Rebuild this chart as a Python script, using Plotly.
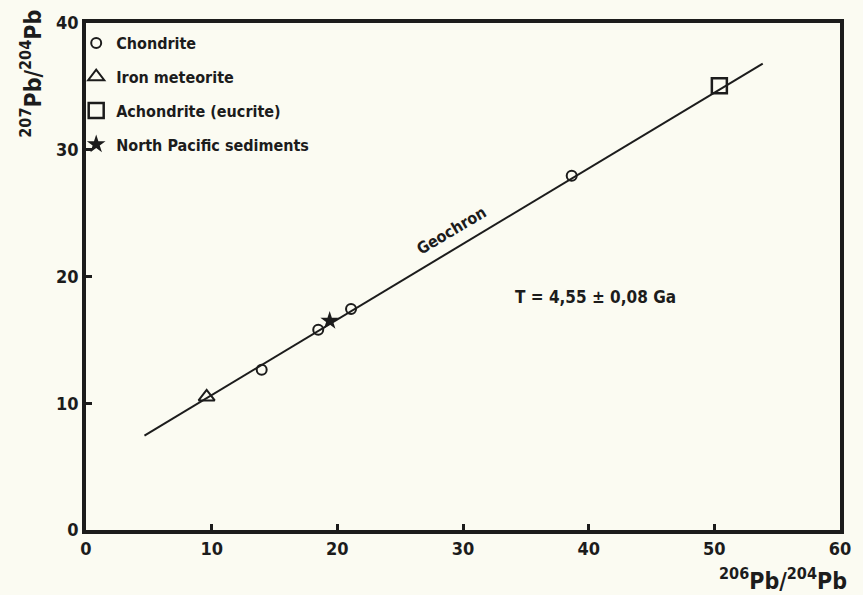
import plotly.graph_objects as go

# ---- data ----
chondrite_x = [13.98, 18.48, 21.09, 38.65]
chondrite_y = [12.65, 15.79, 17.43, 27.95]
iron_x = [9.6]
iron_y = [10.5]
achondrite_x = [50.4]
achondrite_y = [35.05]
pacific_x = [19.39]
pacific_y = [16.5]
geochron_x = [4.65, 53.85]
geochron_y = [7.45, 36.8]

x_ticks = [0, 10, 20, 30, 40, 50, 60]
y_ticks = [0, 10, 20, 30, 40]

INK = "#1c1c1c"
BG = "#fbfbf2"
FONT = "DejaVu Sans Condensed"

fig = go.Figure()

fig.add_trace(go.Scatter(x=geochron_x, y=geochron_y, mode="lines",
                         line=dict(color=INK, width=2), showlegend=False,
                         hoverinfo="skip"))

fig.add_trace(go.Scatter(x=chondrite_x, y=chondrite_y, mode="markers", name="Chondrite",
                         legendgroup="a",
                         marker=dict(symbol="circle-open", size=10, color=INK,
                                     line=dict(width=2, color=INK))))
fig.add_trace(go.Scatter(x=iron_x, y=iron_y, mode="markers", name="Iron meteorite",
                         legendgroup="b",
                         marker=dict(symbol="triangle-up-open", size=14, color=INK,
                                     line=dict(width=2, color=INK))))
fig.add_trace(go.Scatter(x=achondrite_x, y=achondrite_y, mode="markers",
                         name="Achondrite (eucrite)", legendgroup="c",
                         marker=dict(symbol="square-open", size=15, color=INK,
                                     line=dict(width=2.5, color=INK))))
fig.add_trace(go.Scatter(x=pacific_x, y=pacific_y, mode="markers",
                         name="North Pacific sediments", legendgroup="d",
                         marker=dict(symbol="star", size=14, color=INK,
                                     line=dict(width=0, color=INK))))

fig.add_annotation(x=29.1, y=23.6, text="<b>Geochron</b>", showarrow=False,
                   textangle=-30.8, font=dict(family=FONT, size=16, color=INK))
fig.add_annotation(x=40.56, y=18.4, text="<b>T = 4,55 ± 0,08 Ga</b>", showarrow=False,
                   font=dict(family=FONT, size=17, color=INK))

# axis titles
fig.add_annotation(xref="paper", yref="paper", x=1.012, y=-0.063, xanchor="right",
                   yanchor="top", showarrow=False,
                   text="<b><sup>206</sup>Pb/<sup>204</sup>Pb</b>",
                   font=dict(family=FONT, size=23, color=INK))
fig.add_annotation(xref="paper", yref="paper", x=-0.073, y=1.03, xanchor="center",
                   yanchor="top", showarrow=False, textangle=-90,
                   text="<b><sup>207</sup>Pb/<sup>204</sup>Pb</b>",
                   font=dict(family=FONT, size=23, color=INK))

axis_common = dict(showgrid=False, zeroline=False, showline=True, linecolor=INK,
                   linewidth=3.5, mirror=True, ticks="inside", tickcolor=INK,
                   tickwidth=2.5, ticklen=6,
                   tickfont=dict(family=FONT, size=18, color=INK, weight="bold"))

fig.update_xaxes(range=[0, 60], tickvals=x_ticks,
                 ticktext=[f"<b>{v}</b>" for v in x_ticks], **axis_common)
fig.update_yaxes(range=[0, 40], tickvals=y_ticks,
                 ticktext=[f"<b>{v}</b>" for v in y_ticks], **axis_common)

fig.update_layout(
    width=863, height=595,
    margin=dict(l=86, r=14, t=22, b=65),
    paper_bgcolor=BG, plot_bgcolor=BG,
    legend=dict(x=-0.013, y=0.994, xanchor="left", yanchor="top",
                bgcolor="rgba(0,0,0,0)", tracegroupgap=10,
                font=dict(family=FONT, size=16, color=INK, weight="bold")),
)

fig.write_html("out.html", config={"displayModeBar": False},
               post_script="document.body.style.margin='0';document.body.style.background='%s';" % BG)
